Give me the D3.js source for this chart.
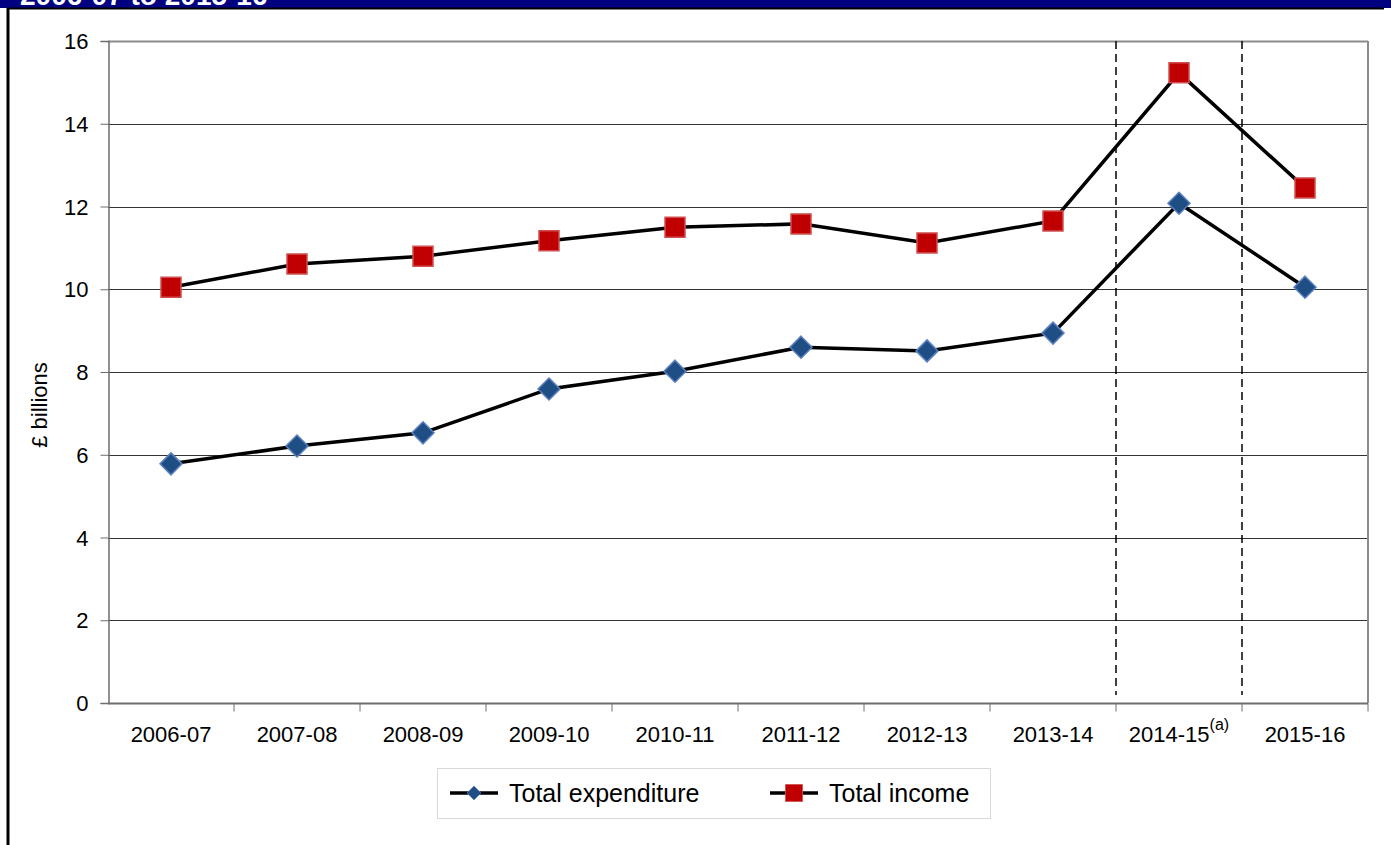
<!DOCTYPE html>
<html>
<head>
<meta charset="utf-8">
<script src="https://cdn.jsdelivr.net/npm/d3@7"></script>
<style>
  body { margin: 0; background: #fff; }
  svg text { font-family: "Liberation Sans", Arial, sans-serif; }
</style>
</head>
<body>
<div id="chart"></div>
<script>
// data (£ billions)
var years = ["2006-07", "2007-08", "2008-09", "2009-10", "2010-11",
             "2011-12", "2012-13", "2013-14", "2014-15", "2015-16"]
var expenditure = [5.78, 6.21, 6.53, 7.59, 8.02, 8.6, 8.51, 8.94, 12.08, 10.05]
var income = [10.05, 10.61, 10.8, 11.17, 11.5, 11.58, 11.12, 11.65, 15.23, 12.45]
var yTicks = [0, 2, 4, 6, 8, 10, 12, 14, 16]
var seriesNames = ["Total expenditure", "Total income"]

var width = 1391,
    height = 845,
    margin = {top: 41, left: 108, right: 23, bottom: 142}

var svg = d3.select("#chart")
  .append("svg")
    .attr("width", width)
    .attr("height", height)

// title banner (cut off at the top of the picture)
svg.append("rect")
  .attr("x", 0).attr("y", 0)
  .attr("width", width).attr("height", 8)
  .attr("fill", "#000080")
svg.append("text")
  .attr("x", 20).attr("y", 5)
  .attr("fill", "#fff")
  .style("font-size", "28px")
  .style("font-weight", "bold")
  .text("2006-07 to 2015-16")
svg.append("line")
  .attr("x1", 7).attr("x2", 1384)
  .attr("y1", 8.5).attr("y2", 8.5)
  .attr("stroke", "#000").attr("stroke-width", 2)
svg.append("line")
  .attr("x1", 8).attr("x2", 8)
  .attr("y1", 8).attr("y2", height)
  .attr("stroke", "#000").attr("stroke-width", 3)

var x = d3.scaleBand()
  .domain(years)
  .range([margin.left, width - margin.right])

var y = d3.scaleLinear()
  .domain([0, 16])
  .range([height - margin.bottom, margin.top])

// gridlines
svg.append("g")
  .selectAll("line")
  .data(yTicks.slice(1))
  .enter()
  .append("line")
    .attr("x1", margin.left).attr("x2", width - margin.right)
    .attr("y1", d => Math.round(y(d)) + 0.5)
    .attr("y2", d => Math.round(y(d)) + 0.5)
    .attr("stroke", d => d == 16 ? "#8c8c8c" : "#333")
    .attr("stroke-width", d => d == 16 ? 2 : 1)

// right border of plot
svg.append("line")
  .attr("x1", width - margin.right).attr("x2", width - margin.right)
  .attr("y1", margin.top).attr("y2", y(0))
  .attr("stroke", "#8c8c8c").attr("stroke-width", 2)

// y axis
var yAxis = svg.append("g")
  .attr("transform", "translate(" + (margin.left + 0.5) + ",0)")
  .call(d3.axisLeft(y).tickValues(yTicks).tickSize(8).tickPadding(12))
yAxis.select(".domain").attr("stroke", "#6e6e6e").attr("stroke-width", 1.5)
yAxis.selectAll(".tick line").attr("stroke", "#6e6e6e")
yAxis.selectAll("text")
  .attr("font-size", null)
  .style("font-size", "22px")
  .attr("fill", "#000")
  .attr("dy", "0.35em")

// x axis, ticks on the category boundaries
var xAxis = svg.append("g")
  .attr("transform", "translate(0," + (Math.round(y(0)) + 0.5) + ")")
xAxis.append("line")
  .attr("x1", margin.left).attr("x2", width - margin.right)
  .attr("stroke", "#6e6e6e").attr("stroke-width", 2)
xAxis.selectAll(".xt")
  .data(years)
  .enter()
  .append("line")
    .attr("x1", d => x(d) + x.bandwidth())
    .attr("x2", d => x(d) + x.bandwidth())
    .attr("y1", 0).attr("y2", 8)
    .attr("stroke", "#6e6e6e")
var xLabels = xAxis.selectAll(".xl")
  .data(years)
  .enter()
  .append("text")
    .attr("x", d => x(d) + x.bandwidth() / 2)
    .attr("y", 38)
    .attr("text-anchor", "middle")
    .style("font-size", "22px")
    .attr("fill", "#000")
    .text(d => d)
// footnote marker on 2014-15
xLabels.filter(d => d == "2014-15")
  .append("tspan")
    .attr("dy", -12)
    .style("font-size", "16px")
    .text("(a)")

// y axis title
svg.append("text")
  .attr("transform", "translate(47," + (y(8) + 33) + ") rotate(-90)")
  .attr("text-anchor", "middle")
  .style("font-size", "22px")
  .text("£ billions")

// dashed lines around 2014-15
svg.append("g")
  .selectAll("line")
  .data(["2014-15"])
  .enter()
  .each(function(d) {
    var g = d3.select(this)
    ;[x(d), x(d) + x.bandwidth()].forEach(function(px) {
      g.append("line")
        .attr("x1", px).attr("x2", px)
        .attr("y1", margin.top).attr("y2", y(0) - 8)
        .attr("stroke", "#000")
        .attr("stroke-width", 1.5)
        .attr("stroke-dasharray", "8,5")
    })
  })

var line = d3.line()
  .x((d, i) => x(years[i]) + x.bandwidth() / 2)
  .y(d => y(d))

function drawSeries(values, marker) {
  svg.append("path")
    .datum(values)
    .attr("d", line)
    .attr("fill", "none")
    .attr("stroke", "#000")
    .attr("stroke-width", 3.5)
  svg.append("g")
    .selectAll("path")
    .data(values)
    .enter()
    .append("path")
      .attr("transform", (d, i) => "translate(" + (x(years[i]) + x.bandwidth() / 2) + "," + y(d) + ")")
      .attr("d", marker.d)
      .attr("fill", marker.fill)
      .attr("stroke", marker.stroke)
      .attr("stroke-width", 1.5)
}

var diamond = {d: "M0,-11L11,0L0,11L-11,0Z", fill: "#1f4e85", stroke: "#5b7fc0"}
var square = {d: "M-10,-10H10V10H-10Z", fill: "#c00000", stroke: "#d05050"}

drawSeries(expenditure, diamond)
drawSeries(income, square)

// legend
var legend = svg.append("g")
legend.append("rect")
  .attr("x", 437.5).attr("y", 768.5)
  .attr("width", 553).attr("height", 50)
  .attr("fill", "#fff")
  .attr("stroke", "#d9d9d9")

var items = [
  {name: seriesNames[0], x0: 450, marker: diamond, scale: 0.64},
  {name: seriesNames[1], x0: 770, marker: square, scale: 0.85}
]
items.forEach(function(it) {
  legend.append("line")
    .attr("x1", it.x0).attr("x2", it.x0 + 48)
    .attr("y1", 793).attr("y2", 793)
    .attr("stroke", "#000").attr("stroke-width", 3.5)
  legend.append("path")
    .attr("transform", "translate(" + (it.x0 + 24) + ",793) scale(" + it.scale + ")")
    .attr("d", it.marker.d)
    .attr("fill", it.marker.fill)
    .attr("stroke", it.marker.stroke)
  legend.append("text")
    .attr("x", it.x0 + 59).attr("y", 802)
    .style("font-size", "25px")
    .text(it.name)
})
</script>
</body>
</html>
